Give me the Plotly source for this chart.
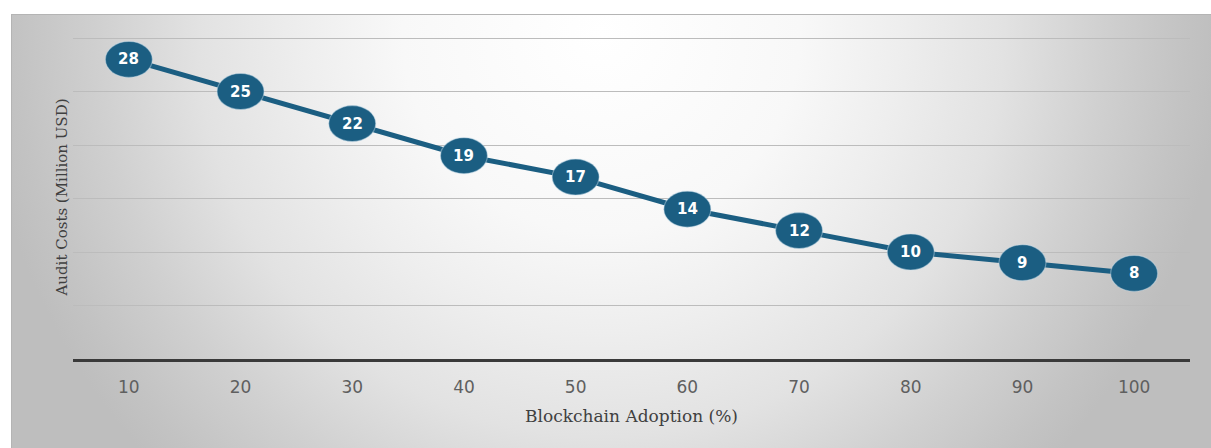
import base64
import plotly.graph_objects as go

# Blockchain adoption level (%) versus audit cost (million USD)
adoption = [10, 20, 30, 40, 50, 60, 70, 80, 90, 100]
adoption_labels = ["10", "20", "30", "40", "50", "60", "70", "80", "90", "100"]
audit_cost = [28, 25, 22, 19, 17, 14, 12, 10, 9, 8]
grid_values = [5, 10, 15, 20, 25, 30]

x_title = "Blockchain Adoption (%)"
y_title = "Audit Costs (Million USD)"

W, H = 1211, 448
ML, MR, MT, MB = 73, 21, 35, 89
plot_w = W - ML - MR
plot_h = H - MT - MB
y_top = 30 * plot_h / (plot_h - 3)  # small headroom so the 30 gridline is drawn

navy = "#1b5e82"

# soft radial background inside a thin grey frame
frame_x0, frame_y0 = 11, 14
fw, fh = W - frame_x0, H - frame_y0
svg = f"""<svg xmlns='http://www.w3.org/2000/svg' width='{fw}' height='{fh}' viewBox='0 0 {fw} {fh}'>
<defs><radialGradient id='g' gradientUnits='userSpaceOnUse' cx='{fw/2 - 10}' cy='20' r='620'>
<stop offset='0' stop-color='#ffffff'/>
<stop offset='0.32' stop-color='#f8f8f8'/>
<stop offset='0.48' stop-color='#eeeeee'/>
<stop offset='0.65' stop-color='#e2e2e2'/>
<stop offset='0.81' stop-color='#d0d0d0'/>
<stop offset='0.94' stop-color='#c3c3c3'/>
<stop offset='1' stop-color='#bebebe'/>
</radialGradient></defs>
<rect x='0' y='0' width='{fw}' height='{fh}' fill='url(#g)'/>
<rect x='0.5' y='0.5' width='{fw+5}' height='{fh+5}' fill='none' stroke='#b4b4b4' stroke-width='1'/>
</svg>"""
bg_src = "data:image/svg+xml;base64," + base64.b64encode(svg.encode()).decode()


def px_to_paper_x(px):
    return (px - ML) / plot_w


def px_to_paper_y(py):
    return (H - MB - py) / plot_h


fig = go.Figure()

fig.add_trace(go.Scatter(
    x=adoption, y=audit_cost, mode="lines",
    line=dict(color=navy, width=5),
    hoverinfo="skip", showlegend=False,
))

# elliptical value badges
shapes = []
for xv, yv in zip(adoption, audit_cost):
    shapes.append(dict(
        type="circle", xref="x", yref="y",
        xsizemode="pixel", ysizemode="pixel",
        xanchor=xv, yanchor=yv,
        x0=-23.5, x1=23.5, y0=-18, y1=18,
        fillcolor=navy, line=dict(color="rgba(200,222,235,0.45)", width=1.2),
        layer="above",
    ))

annotations = [
    dict(x=xv, y=yv, xref="x", yref="y", text=f"<b>{yv}</b>", showarrow=False,
         font=dict(family="DejaVu Sans", size=15, color="white"))
    for xv, yv in zip(adoption, audit_cost)
]

fig.update_layout(
    width=W, height=H,
    margin=dict(l=ML, r=MR, t=MT, b=MB, pad=0),
    paper_bgcolor="white", plot_bgcolor="rgba(0,0,0,0)",
    shapes=shapes,
    annotations=annotations,
    images=[dict(
        source=bg_src, xref="paper", yref="paper",
        x=px_to_paper_x(frame_x0), y=px_to_paper_y(frame_y0),
        sizex=fw / plot_w, sizey=fh / plot_h,
        xanchor="left", yanchor="top", sizing="stretch", layer="below",
    )],
    xaxis=dict(
        range=[5, 105], tickvals=adoption, ticktext=adoption_labels,
        showgrid=False, zeroline=False,
        showline=True, linecolor="#3a3a3a", linewidth=3,
        ticks="", ticklabelstandoff=11,
        tickfont=dict(family="DejaVu Sans", size=17, color="#5f5f5f"),
        title=dict(text=x_title, standoff=14,
                   font=dict(family="DejaVu Serif", size=17, color="#404040")),
    ),
    yaxis=dict(
        range=[0, y_top], tickvals=grid_values,
        showgrid=True, gridcolor="#bcbcbc", gridwidth=1,
        zeroline=False, showline=False, showticklabels=False, ticks="",
        title=dict(text=y_title, standoff=0,
                   font=dict(family="DejaVu Serif", size=15, color="#404040")),
    ),
    hovermode=False,
)

fig.write_html("out.html")
